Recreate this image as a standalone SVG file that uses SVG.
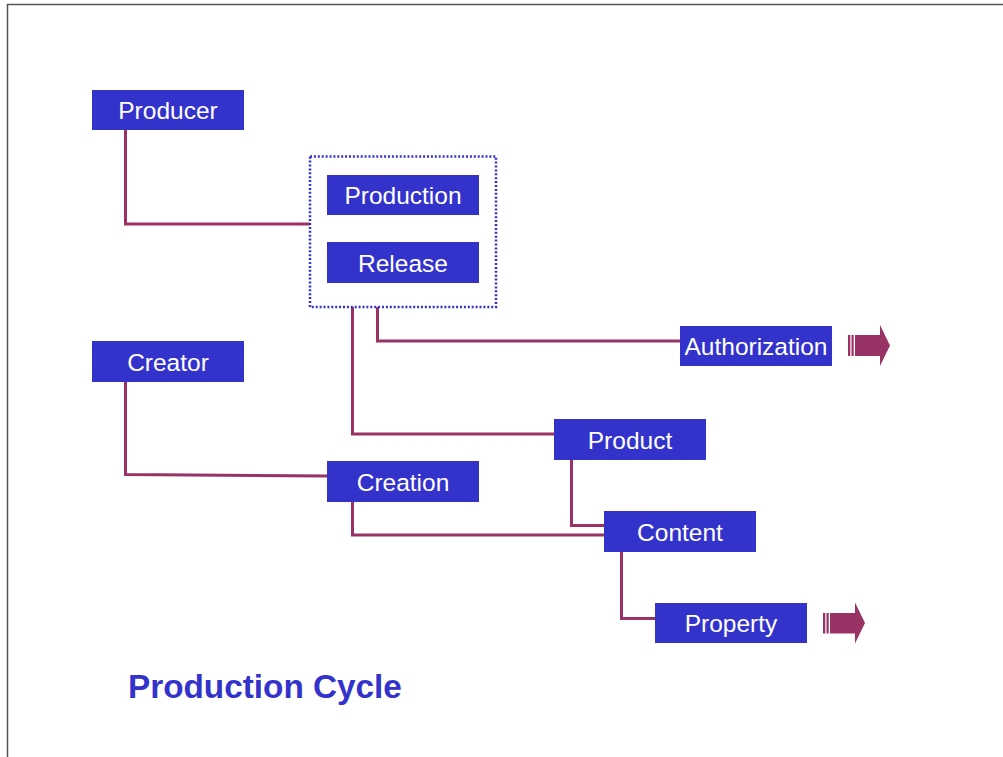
<svg xmlns="http://www.w3.org/2000/svg" width="1003" height="757" viewBox="0 0 1003 757">
<style>
.box{fill:#3333CC}
.lbl{font-family:"Liberation Sans",Arial,sans-serif;font-size:24.5px;fill:#FFFFFF;text-anchor:middle}
.conn{fill:none;stroke:#993366;stroke-width:3}
.arr{fill:#993366}
.title{font-family:"Liberation Sans",Arial,sans-serif;font-size:33.3px;font-weight:bold;fill:#3333CC}
</style>
<rect width="1003" height="757" fill="#FFFFFF"/>
<path d="M7.5 757 V4.5 H1003" fill="none" stroke="#555555" stroke-width="1.5"/>
<g id="connectors">
<path class="conn" d="M125.5 130 V224 H310"/>
<path class="conn" d="M377.5 307 V341 H680"/>
<path class="conn" d="M352.5 307 V434 H554"/>
<path class="conn" d="M125.5 382 V474.5 L327 476"/>
<path class="conn" d="M352.5 502 V535 H604"/>
<path class="conn" d="M571.5 460 V525.5 H604"/>
<path class="conn" d="M621.5 552 V618.5 H655"/>
</g>
<g id="group-production-release">
<rect x="310" y="156.5" width="186" height="150.5" fill="none" stroke="#3333CC" stroke-width="2.5" stroke-dasharray="2 1.9"/>
</g>
<g id="producer"><rect class="box" x="92" y="90" width="152" height="40"/><text class="lbl" x="168" y="119">Producer</text></g>
<g id="production"><rect class="box" x="327" y="175" width="152" height="40"/><text class="lbl" x="403" y="204">Production</text></g>
<g id="release"><rect class="box" x="327" y="242" width="152" height="41"/><text class="lbl" x="403" y="271.5">Release</text></g>
<g id="authorization"><rect class="box" x="680" y="326" width="152" height="40"/><text class="lbl" x="756" y="355">Authorization</text></g>
<g id="creator"><rect class="box" x="92" y="341" width="152" height="41"/><text class="lbl" x="168" y="370.5">Creator</text></g>
<g id="product"><rect class="box" x="554" y="419" width="152" height="41"/><text class="lbl" x="630" y="448.5">Product</text></g>
<g id="creation"><rect class="box" x="327" y="461" width="152" height="41"/><text class="lbl" x="403" y="490.5">Creation</text></g>
<g id="content"><rect class="box" x="604" y="511" width="152" height="41"/><text class="lbl" x="680" y="540.5">Content</text></g>
<g id="property"><rect class="box" x="655" y="603" width="152" height="40"/><text class="lbl" x="731" y="632">Property</text></g>
<g id="arrow-authorization">
<rect class="arr" x="848" y="335" width="2.3" height="21"/>
<rect class="arr" x="851.5" y="335" width="2.2" height="21"/>
<polygon class="arr" points="855,335 880,335 880,325 890,345.5 880,366 880,356 855,356"/>
</g>
<g id="arrow-property">
<rect class="arr" x="823" y="613" width="2.3" height="20.5"/>
<rect class="arr" x="826.5" y="613" width="2.2" height="20.5"/>
<polygon class="arr" points="830,613 855,613 855,602.5 865,623 855,643.5 855,633.5 830,633.5"/>
</g>
<text class="title" x="128" y="698">Production Cycle</text>
</svg>
